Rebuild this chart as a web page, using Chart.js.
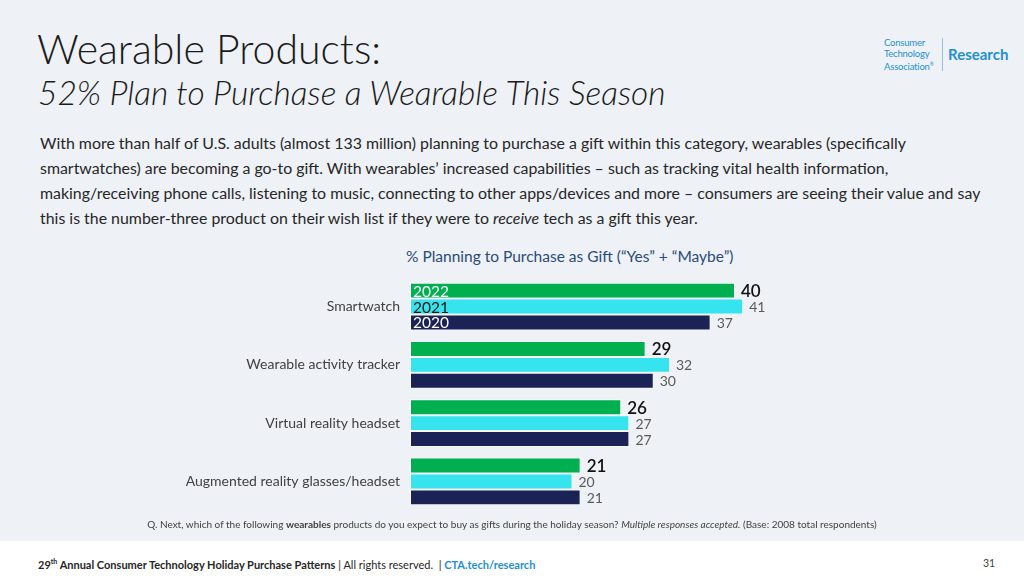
<!DOCTYPE html>
<html>
<head>
<meta charset="utf-8">
<script src="https://cdn.jsdelivr.net/npm/chart.js@4.4.0/dist/chart.umd.min.js"></script>
<style>
  html, body { margin: 0; padding: 0; }
  body { width: 1024px; height: 579px; background: #eef2f6; position: relative; overflow: hidden; font-family: Lato, "Open Sans", sans-serif; color: #262626; }
  .abs { position: absolute; white-space: nowrap; }
  #title { left: 37px; top: 24px; font-size: 41px; font-weight: 300; color: #1a1a1a; }
  #subtitle { left: 38px; top: 72px; font-size: 33.5px; font-weight: 300; font-style: italic; color: #1a1a1a; }
  #body { left: 40px; top: 130px; font-size: 15.9px; line-height: 25px; color: #262626; }
  #chartTitle { left: 406px; top: 247px; font-size: 15.5px; color: #2a4a78; }
  #question { left: 0; width: 1024px; top: 518px; text-align: center; font-size: 10px; color: #404040; }
  #footer { left: 0; top: 541px; width: 1024px; height: 38px; background: #ffffff; }
  #footText { left: 38px; top: 557px; font-size: 11px; color: #262626; }
  #pageNo { left: 983px; top: 557px; font-size: 10.5px; color: #404040; }
  #logoSmall { left: 884px; top: 38px; font-size: 9.5px; line-height: 10.5px; color: #1e90d2; letter-spacing: -0.2px; }
  #logoLine { left: 942px; top: 38px; width: 1px; height: 33px; background: #9bbfd8; }
  #logoBig { left: 948px; top: 45px; font-size: 15px; font-weight: bold; color: #1e90d2; }
  #chartBox { position: absolute; left: 0; top: 259px; width: 800px; height: 270px; }
</style>
</head>
<body>
<div class="abs" id="title">Wearable Products:</div>
<div class="abs" id="subtitle">52% Plan to Purchase a Wearable This Season</div>
<div class="abs" id="body">With more than half of U.S. adults (almost 133 million) planning to purchase a gift within this category, wearables (specifically<br>smartwatches) are becoming a go-to gift. With wearables’ increased capabilities – such as tracking vital health information,<br>making/receiving phone calls, listening to music, connecting to other apps/devices and more – consumers are seeing their value and say<br>this is the number-three product on their wish list if they were to <i>receive</i> tech as a gift this year.</div>
<div class="abs" id="logoSmall">Consumer<br>Technology<br>Association<sup style="font-size:5px">®</sup></div>
<div class="abs" id="logoLine"></div>
<div class="abs" id="logoBig">Research</div>
<div class="abs" id="chartTitle">% Planning to Purchase as Gift (“Yes” + “Maybe”)</div>
<div id="chartBox"><canvas id="wearChart"></canvas></div>
<div class="abs" id="question">Q. Next, which of the following <b>wearables</b> products do you expect to buy as gifts during the holiday season? <i>Multiple responses accepted.</i> (Base: 2008 total respondents)</div>
<div class="abs" id="footer"></div>
<div class="abs" id="footText"><b>29<sup style="font-size:7px">th</sup> Annual Consumer Technology Holiday Purchase Patterns</b> | All rights reserved. &nbsp;| <b style="color:#1e90d2">CTA.tech/research</b></div>
<div class="abs" id="pageNo">31</div>

<script>
const categories = ['Smartwatch', 'Wearable activity tracker', 'Virtual reality headset', 'Augmented reality glasses/headset'];
const years = ['2022', '2021', '2020'];
const values2022 = [40, 29, 26, 21];
const values2021 = [41, 32, 27, 20];
const values2020 = [37, 30, 27, 21];
const barColors = ['#00b050', '#35e4ee', '#1b2255'];
const yearTextColors = ['#ffffff', '#111111', '#ffffff'];

// writes the numbers after each bar and the year names inside the first group
const barLabels = {
    id: 'barLabels',
    afterDatasetsDraw(chart) {
        const ctx = chart.ctx;
        ctx.save();
        ctx.textBaseline = 'middle';
        chart.data.datasets.forEach((ds, i) => {
            const meta = chart.getDatasetMeta(i);
            meta.data.forEach((bar, j) => {
                ctx.textAlign = 'left';
                if (i === 0) {
                    ctx.font = '600 17px Lato, sans-serif';
                    ctx.fillStyle = '#111111';
                } else {
                    ctx.font = '14px Lato, sans-serif';
                    ctx.fillStyle = '#595959';
                }
                ctx.fillText(ds.data[j], bar.x + 6, bar.y + 1);
                if (j === 0) {
                    ctx.font = '15.5px Lato, sans-serif';
                    ctx.fillStyle = yearTextColors[i];
                    ctx.fillText(ds.label, bar.base + 3, bar.y + 1);
                }
            });
        });
        ctx.restore();
    }
};

const wearCtx = document.getElementById('wearChart').getContext('2d');
new Chart(wearCtx, {
    type: 'bar',
    data: {
        labels: categories,
        datasets: [
            { label: years[0], data: values2022, backgroundColor: barColors[0] },
            { label: years[1], data: values2021, backgroundColor: barColors[1] },
            { label: years[2], data: values2020, backgroundColor: barColors[2] }
        ].map(d => Object.assign(d, {
            borderColor: 'rgba(255,255,255,0.55)',
            borderWidth: 1,
            borderSkipped: false,
            categoryPercentage: 0.82,
            barPercentage: 1.0
        }))
    },
    options: {
        indexAxis: 'y',
        responsive: true,
        maintainAspectRatio: false,
        animation: false,
        layout: { padding: 0 },
        plugins: {
            legend: { display: false },
            tooltip: { enabled: false }
        },
        scales: {
            x: {
                display: false,
                min: 0,
                max: 48
            },
            y: {
                grid: { display: false, drawTicks: false },
                border: { display: false },
                ticks: {
                    color: '#404040',
                    font: { family: 'Lato, sans-serif', size: 14 },
                    padding: 10
                },
                afterFit(scale) {
                    scale.width = 410;
                }
            }
        }
    },
    plugins: [barLabels]
});
</script>
</body>
</html>
